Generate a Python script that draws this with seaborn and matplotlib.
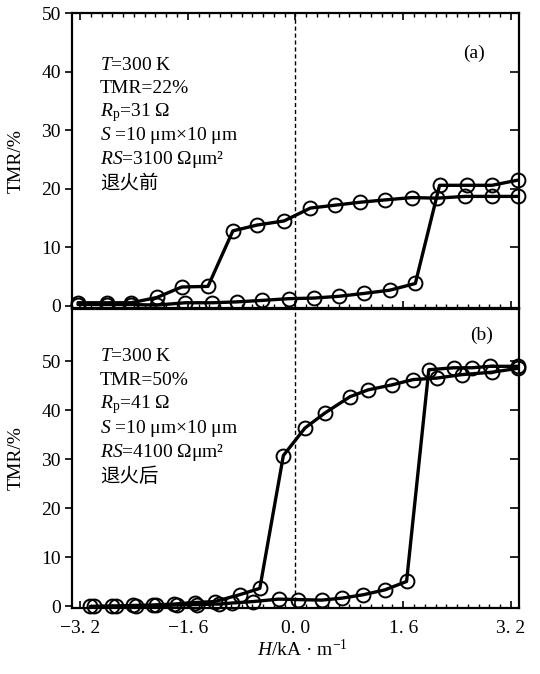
import numpy as np
import matplotlib
matplotlib.use("Agg")
import matplotlib.pyplot as plt
import seaborn as sns
from matplotlib.ticker import MultipleLocator

# panel (a): before annealing, two sweep branches
a1_h = [-3.23, -2.80, -2.44, -2.06, -1.69, -1.30, -0.93, -0.57, -0.17, 0.22, 0.59, 0.96, 1.33, 1.73, 2.10, 2.52, 2.92, 3.31]
a1_tmr = [0.5, 0.5, 0.5, 1.4, 3.2, 3.3, 12.8, 13.8, 14.5, 16.7, 17.2, 17.7, 18.1, 18.5, 18.4, 18.7, 18.7, 18.7]
a2_h = [-3.23, -2.80, -2.44, -2.06, -1.64, -1.24, -0.87, -0.50, -0.10, 0.27, 0.64, 1.02, 1.40, 1.78, 2.14, 2.55, 2.92, 3.31]
a2_tmr = [0.2, 0.2, 0.2, 0.1, 0.5, 0.5, 0.65, 0.9, 1.2, 1.3, 1.6, 2.1, 2.65, 3.8, 20.6, 20.6, 20.6, 21.5]

# panel (b): after annealing
b1_h = [-3.05, -2.72, -2.42, -2.12, -1.80, -1.50, -1.20, -0.83, -0.53, -0.18, 0.14, 0.44, 0.81, 1.08, 1.43, 1.75, 2.10, 2.47, 2.92, 3.31]
b1_tmr = [0.0, 0.1, 0.2, 0.3, 0.5, 0.8, 1.0, 2.4, 3.7, 30.8, 36.4, 39.5, 42.8, 44.2, 45.2, 46.3, 46.6, 47.3, 47.8, 48.6]
b2_h = [-3.00, -2.67, -2.37, -2.07, -1.76, -1.46, -1.13, -0.95, -0.63, -0.25, 0.04, 0.39, 0.69, 1.01, 1.33, 1.65, 1.98, 2.35, 2.62, 2.89, 3.31]
b2_tmr = [0.0, 0.0, 0.1, 0.2, 0.3, 0.4, 0.5, 0.7, 1.0, 1.5, 1.4, 1.3, 1.7, 2.4, 3.4, 5.1, 48.3, 48.7, 48.7, 49.0, 49.0]

x_ticks = [-3.2, -1.6, 0.0, 1.6, 3.2]
x_ticklabels = ["\u22123. 2", "\u22121. 6", "0. 0", "1. 6", "3. 2"]
y_ticks = [0, 10, 20, 30, 40, 50]

notes_a = [r"$T$=300 K", "TMR=22%", r"$R_{\rm p}$=31 Ω", r"$S$ =10 μm×10 μm", r"$RS$=3100 Ωμm²", "退火前"]
notes_b = [r"$T$=300 K", "TMR=50%", r"$R_{\rm p}$=41 Ω", r"$S$ =10 μm×10 μm", r"$RS$=4100 Ωμm²", "退火后"]

sns.set_style("ticks")
plt.rcParams['font.family'] = ['Liberation Serif', 'Noto Sans CJK SC']
plt.rcParams['mathtext.fontset'] = 'custom'
plt.rcParams['mathtext.rm'] = 'Liberation Serif'
plt.rcParams['mathtext.it'] = 'Liberation Serif:italic'
for k in ['axes.edgecolor', 'axes.labelcolor', 'text.color', 'xtick.color', 'ytick.color']:
    plt.rcParams[k] = 'black'

fs = 14
fig = plt.figure(figsize=(5.4, 6.74), dpi=100)
ax_a = fig.add_axes([0.1333, 0.543, 0.8278, 0.437])
ax_b = fig.add_axes([0.1333, 0.098, 0.8278, 0.4436])

style = dict(marker='o', markersize=10, markerfacecolor='none', markeredgecolor='black',
             markeredgewidth=1.4, color='black', linewidth=2.4, clip_on=False)

for ax, branches, ylim, notes, tag, note_y, tag_xy, rticks in [
    (ax_a, [(a1_h, a1_tmr), (a2_h, a2_tmr)], (-0.4, 50), notes_a, "(a)", 0.825, (0.90, 0.866), [10, 20, 30, 40]),
    (ax_b, [(b1_h, b1_tmr), (b2_h, b2_tmr)], (-0.3, 60.7), notes_b, "(b)", 0.840, (0.917, 0.913), [10, 20, 30, 40, 50]),
]:
    for h, t in branches:
        sns.lineplot(x=h, y=t, ax=ax, sort=False, estimator=None, **style)
    ax.axvline(0.0, color='black', linewidth=1.0, linestyle=(0, (3, 2)), zorder=1)
    ax.set_xlim(-3.32, 3.32)
    ax.set_ylim(*ylim)
    ax.set_yticks(y_ticks)
    ax.set_yticklabels([str(v) for v in y_ticks], fontsize=fs)
    ax.set_ylabel("TMR/%", fontsize=fs)
    ax.yaxis.set_label_coords(-0.105, 0.5)
    ax.tick_params(axis='y', direction='out', length=5, width=1.2, pad=3, right=False)
    # inward ticks on the right spine
    ax_r = ax.twinx()
    ax_r.set_ylim(*ylim)
    ax_r.set_yticks(rticks)
    ax_r.tick_params(axis='y', direction='in', length=6.5, width=1.2, labelright=False, right=True)
    for s in ax_r.spines.values():
        s.set_visible(False)
    ax.set_xticks(x_ticks)
    ax.xaxis.set_minor_locator(MultipleLocator(0.16))
    ax.tick_params(axis='x', which='major', direction='in', length=5, width=1.2, pad=9)
    ax.tick_params(axis='x', which='minor', direction='in', length=3, width=1.0)
    for s in ax.spines.values():
        s.set_visible(True)
        s.set_linewidth(1.6)
    for i, line in enumerate(notes):
        ax.text(0.0626, note_y - i * 0.0802, line, transform=ax.transAxes,
                fontsize=fs, va='center', ha='left')
    ax.text(tag_xy[0], tag_xy[1], tag, transform=ax.transAxes, fontsize=fs,
            va='center', ha='center')

ax_a.tick_params(axis='x', which='both', top=True, labelbottom=False)
ax_b.set_xticklabels(x_ticklabels, fontsize=fs)
ax_b.set_xlabel(r"$H$/kA · m$^{-1}$", fontsize=fs)
ax_b.xaxis.set_label_coords(0.516, -0.105)

fig.savefig("out.png", dpi=100, facecolor='white')
